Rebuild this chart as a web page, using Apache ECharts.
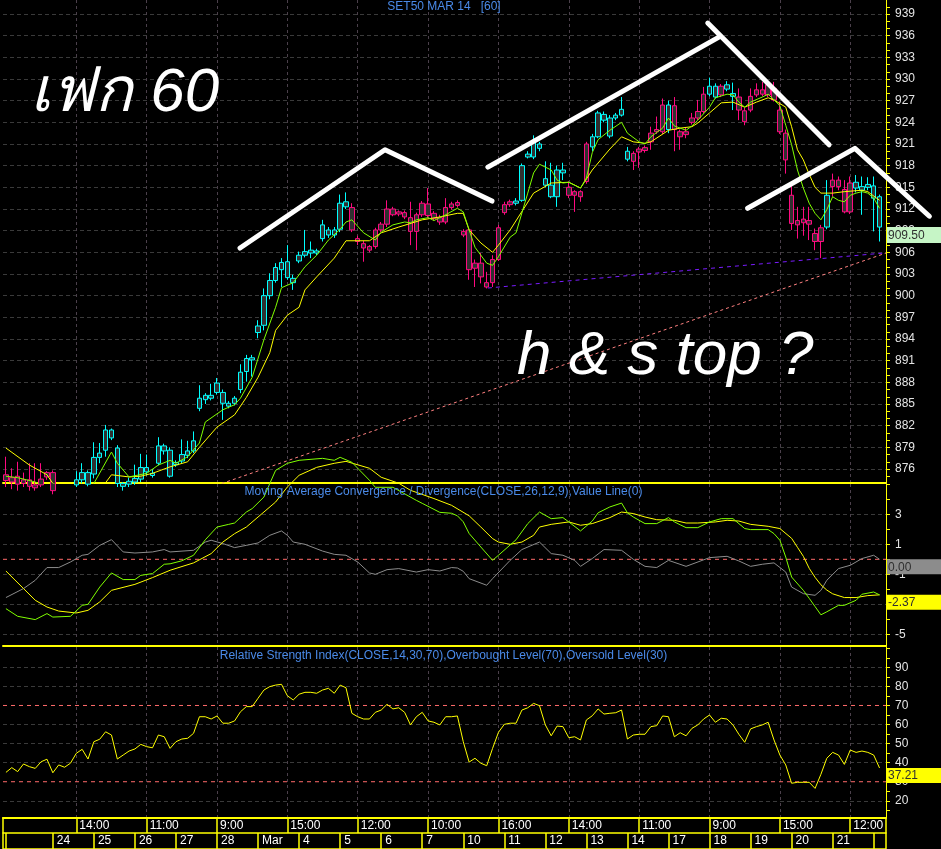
<!DOCTYPE html>
<html>
<head>
<meta charset="utf-8">
<title>SET50 MAR 14 [60]</title>
<script src="https://cdn.jsdelivr.net/npm/echarts@6.0.0/dist/echarts.min.js"></script>
<style>
html,body{margin:0;padding:0;background:#000;}
#chart{width:941px;height:849px;}
</style>
</head>
<body>
<div id="chart"></div>
<script>
// ---------------- DATA ----------------
const timeLabelIdx = [12,24,36,48,60,72,84,96,108,120,132,144];
const timeLabels = ['14:00','11:00','9:00','15:00','12:00','10:00','16:00','14:00','11:00','9:00','15:00','12:00'];
const dayStartIdx = [0,8,15,22,29,36,43,50,57,64,71,78,85,92,99,106,113,120,127,134,141,148];
const dayLabels = ['','24','25','26','27','28','Mar','4','5','6','7','10','11','12','13','14','17','18','19','20','21',''];

const priceTickLabels = [876,879,882,885,888,891,894,897,900,903,906,909,912,915,918,921,924,927,930,933,936,939];
const macdTickLabels = [-5,-3,-1,1,3];
const rsiTickLabels = [20,30,40,50,60,70,80,90];

const opens = [875.2,874.8,875.0,874.0,874.5,873.8,873.8,874.9,875.5,873.0,
872.5,873.0,873.8,874.5,875.5,875.3,877.6,878.6,881.4,878.9,
874.0,873.9,874.2,874.6,876.2,875.4,876.8,879.2,878.6,876.6,
877.1,877.9,878.5,884.4,885.6,886.2,887.9,886.6,884.7,885.1,
887.0,889.5,891.4,894.9,895.9,900.0,902.1,903.6,904.7,902.4,
904.8,905.6,905.9,906.2,909.8,908.4,909.1,909.2,913.0,912.2,
907.9,907.2,906.3,906.8,909.1,909.9,912.0,911.3,911.5,910.8,
908.9,911.2,912.7,910.7,910.8,910.2,912.2,912.5,908.4,909.1,
903.8,904.5,901.2,901.8,905.0,911.5,912.6,912.8,913.2,919.6,
919.2,921.0,915.3,915.3,913.7,917.4,915.0,914.4,914.4,915.8,
920.6,922.0,925.1,922.1,924.6,925.0,920.0,918.6,919.9,920.5,
921.3,922.7,922.7,923.0,926.3,922.0,922.3,924.0,924.6,925.5,
929.0,929.0,927.8,929.2,927.6,927.5,925.6,925.7,927.8,927.9,
927.8,928.7,925.7,922.5,913.9,909.8,910.1,910.4,908.6,907.5,
909.5,915.1,916.0,914.7,911.6,915.7,914.6,915.0,915.2,913.7];
const highs = [877.7,876.1,877.0,875.5,876.8,876.8,876.8,875.7,875.8,873.8,
873.6,874.0,875.7,876.8,875.8,879.7,879.6,882.1,881.6,879.3,
874.2,874.8,876.6,878.1,878.0,876.0,880.4,879.5,879.0,877.2,
880.1,879.9,881.2,887.6,886.5,887.8,888.6,887.0,885.4,886.1,
890.5,891.8,891.8,896.6,901.0,903.1,904.5,905.2,907.0,902.9,
906.1,909.1,907.5,906.5,910.5,909.5,909.5,914.0,914.3,912.8,
908.3,907.6,907.0,909.4,910.2,913.2,912.3,911.8,911.8,913.0,
911.5,913.1,914.9,911.7,911.2,913.5,913.0,913.2,909.2,909.5,
905.0,905.9,903.3,905.6,909.8,913.0,913.3,913.5,918.3,920.0,
922.2,921.3,918.6,918.4,918.0,918.4,915.8,914.6,914.6,921.3,
922.4,925.6,925.5,925.0,925.3,927.5,920.6,920.0,920.6,920.8,
923.4,924.8,927.3,927.0,927.5,923.0,923.3,925.3,927.1,928.9,
930.2,929.4,929.3,929.7,929.5,928.7,926.0,928.7,929.4,929.6,
929.8,929.6,926.9,923.0,915.3,912.3,912.3,912.3,909.3,909.8,
916.0,916.9,916.5,916.0,916.5,916.7,916.5,916.4,916.5,914.0];
const lows = [873.5,873.2,873.0,873.5,873.0,873.0,873.5,874.5,872.5,871.8,
872.0,872.5,873.5,874.0,873.6,874.7,876.8,877.7,880.0,873.5,
873.0,873.5,873.8,874.2,875.1,874.8,876.5,878.0,874.8,876.3,
876.8,877.5,878.2,884.0,885.0,885.5,886.3,882.8,884.4,884.8,
886.5,888.1,888.8,894.1,895.2,899.5,901.8,901.2,902.2,900.8,
904.5,905.3,905.2,905.6,907.5,908.0,908.0,908.8,912.0,908.8,
907.0,904.7,906.0,906.5,908.8,909.5,911.0,911.0,910.6,907.0,
906.3,910.9,910.8,910.4,909.8,909.9,911.9,912.2,908.1,902.2,
901.2,901.7,901.0,901.2,904.8,911.2,912.3,912.5,913.0,919.0,
918.9,920.0,915.0,913.5,912.3,916.0,913.5,911.6,913.0,915.5,
920.0,921.8,924.0,921.8,924.3,924.8,918.6,917.4,917.7,919.8,
920.2,922.4,922.4,922.5,920.0,920.2,921.8,923.7,924.3,925.2,
927.6,927.3,927.5,928.3,925.7,924.3,923.6,925.4,927.5,927.6,
927.5,926.9,922.4,916.9,909.1,907.9,908.3,907.7,906.3,905.2,
909.2,913.7,914.6,911.4,911.3,914.3,911.2,914.6,908.9,907.5];
const closes = [874.4,874.2,873.9,874.5,873.6,873.4,874.6,875.5,873.0,872.5,
873.0,873.8,874.5,875.5,873.9,877.6,878.2,881.4,880.3,874.0,
873.6,874.3,874.7,876.2,875.6,875.1,879.2,878.5,875.0,876.9,
878.0,878.5,879.9,885.8,886.2,885.8,886.6,885.1,885.1,885.8,
889.4,891.3,891.1,895.8,900.0,902.1,903.9,904.6,902.5,901.8,
905.6,906.1,906.3,905.9,907.9,909.1,908.4,912.8,912.3,909.1,
907.5,906.6,906.8,909.1,909.9,912.0,911.2,911.6,910.9,908.9,
911.2,912.8,911.1,911.4,910.2,912.2,912.7,912.9,908.9,903.6,
904.5,902.6,901.8,905.0,909.4,912.6,913.0,913.1,918.0,919.2,
921.2,920.4,916.2,913.7,917.4,917.0,913.9,913.9,913.7,921.0,
922.0,925.3,924.3,924.6,925.0,925.8,918.9,919.7,920.3,920.1,
922.5,923.0,926.4,926.4,923.0,922.7,922.7,924.6,925.5,927.9,
927.9,927.5,929.0,928.6,928.0,925.7,924.1,927.6,928.5,928.5,
929.2,927.1,922.7,918.8,910.0,910.4,910.6,909.9,907.5,909.4,
913.9,916.0,915.1,911.6,915.6,914.9,915.1,915.4,913.5,909.50];

// bull (1) / bear (0) state: [first bar, state]
const regimeRuns = [[0,0],[12,1],[59,0],[87,1],[96,0],[100,1],[107,0],[113,1],[114,0],[120,1],[122,0],[123,1],[125,0],[140,1],[141,0],[145,1]];

const maFast = [[0,875.0],[2,874.8],[5,874.2],[8,873.0],[11,872.6],[14,873.2],[15,874.0],[18,878.35],[19,876.8],[21,874.9],[24,875.4],[26,876.55],[28,877.2],[29,876.8],[31,877.7],[33,879.6],[34,882.5],[37,884.2],[39,884.9],[40,885.8],[42,888.7],[44,893.9],[46,898.4],[47,901.1],[49,901.8],[51,904.0],[53,905.6],[55,907.7],[57,909.2],[58,910.2],[59,910.5],[61,908.7],[63,907.7],[64,908.8],[66,909.8],[68,910.2],[69,910.1],[70,910.5],[72,910.8],[73,910.4],[75,911.2],[77,912.1],[78,911.6],[79,909.1],[80,906.7],[82,904.5],[83,904.2],[84,905.4],[86,908.1],[87,908.7],[89,914.2],[90,917.0],[91,918.2],[93,917.4],[94,916.0],[95,915.6],[96,915.7],[97,915.3],[98,914.9],[99,916.3],[100,919.8],[101,921.6],[103,922.9],[105,924.0],[106,922.5],[108,921.3],[109,921.0],[110,922.0],[112,923.2],[113,924.6],[114,923.5],[116,922.9],[117,923.5],[118,924.3],[120,926.1],[121,927.4],[123,927.9],[124,927.8],[125,926.8],[126,926.1],[127,926.8],[129,927.5],[130,927.9],[131,927.1],[132,926.3],[133,923.6],[134,920.9],[135,917.4],[136,914.9],[137,912.8],[138,911.4],[139,910.5],[140,911.9],[141,913.7],[142,913.2],[143,913.0],[144,913.9],[145,914.2],[146,914.4],[147,914.2],[148,913.5],[149,912.1]];
const maSlow = [[0,878.9],[4,876.55],[7,875.2],[8,874.0],[11,873.2],[14,873.3],[17,874.1],[18,875.2],[21,874.9],[23,875.0],[25,875.4],[28,876.3],[31,877.0],[33,879.0],[36,881.8],[39,883.5],[41,885.9],[43,888.7],[45,892.1],[46,895.2],[48,897.3],[50,898.4],[51,900.8],[53,902.6],[56,905.2],[58,907.6],[62,907.6],[64,908.7],[67,909.5],[71,910.5],[74,910.9],[77,911.4],[78,911.4],[79,909.1],[81,907.3],[83,906.0],[84,907.0],[86,909.1],[90,914.2],[93,915.6],[96,915.7],[98,914.9],[100,917.4],[103,920.3],[105,922.0],[107,921.3],[109,921.1],[110,921.3],[113,922.9],[115,923.2],[117,923.4],[118,923.9],[120,925.3],[122,926.7],[124,926.8],[126,926.1],[128,926.8],[130,927.4],[131,927.1],[133,926.1],[134,923.4],[135,920.2],[136,918.8],[137,916.8],[138,915.0],[139,914.2],[141,914.2],[143,914.4],[146,914.6],[147,914.4],[149,913.2]];

const macdLine = [[0,-3.29],[2,-3.8],[5,-4.02],[7,-3.62],[8,-3.85],[11,-3.8],[13,-3.07],[14,-3.0],[16,-1.85],[18,-0.91],[20,-1.35],[22,-1.35],[23,-1.07],[25,-0.95],[27,-0.33],[28,-0.3],[30,-0.1],[32,0.27],[34,1.3],[36,2.15],[38,2.33],[39,2.42],[41,3.15],[42,3.38],[44,4.15],[45,5.05],[46,5.93],[48,6.4],[50,6.6],[54,6.73],[56,6.6],[57,6.8],[59,6.47],[62,5.27],[63,4.8],[66,4.8],[70,3.93],[71,3.73],[74,3.13],[76,3.07],[77,2.9],[78,2.5],[79,1.72],[81,0.82],[83,-0.07],[84,0.27],[87,1.3],[89,2.38],[91,3.15],[93,2.71],[95,2.78],[96,2.49],[98,1.89],[100,2.55],[101,3.1],[103,3.49],[105,3.75],[106,3.1],[107,2.82],[109,2.38],[111,2.38],[113,2.78],[114,2.5],[115,2.3],[116,2.11],[118,2.11],[120,2.49],[122,2.71],[124,2.71],[126,2.05],[127,1.98],[130,1.98],[131,1.71],[132,1.27],[133,0.15],[134,-1.18],[136,-2.07],[137,-2.6],[138,-3.15],[139,-3.7],[140,-3.5],[142,-3.07],[143,-3.07],[145,-2.73],[146,-2.33],[148,-2.18],[149,-2.37]];
const signalLine = [[0,-0.78],[3,-1.95],[5,-2.73],[7,-3.18],[9,-3.45],[12,-3.58],[14,-3.4],[16,-2.84],[18,-2.07],[22,-1.67],[25,-1.22],[28,-0.73],[32,-0.24],[35,0.38],[37,1.15],[39,1.71],[41,2.15],[43,2.82],[46,3.82],[48,4.82],[50,5.6],[53,6.13],[56,6.4],[58,6.53],[62,6.07],[64,5.47],[67,5.07],[69,4.6],[73,4.05],[76,3.6],[79,2.9],[81,2.15],[83,1.38],[84,1.15],[86,1.0],[88,1.15],[90,1.6],[91,2.15],[93,2.33],[96,2.49],[98,2.27],[100,2.38],[103,2.78],[105,3.15],[107,3.05],[109,2.82],[111,2.64],[114,2.6],[116,2.42],[118,2.42],[121,2.49],[123,2.6],[125,2.55],[127,2.33],[130,2.2],[132,2.05],[134,1.4],[135,0.8],[136,0.2],[137,-0.6],[138,-1.2],[139,-1.7],[140,-2.05],[141,-2.3],[143,-2.55],[145,-2.55],[147,-2.42],[149,-2.37]];
const histLine = [[0,-2.55],[3,-1.95],[5,-1.4],[7,-0.55],[9,-0.55],[11,-0.18],[13,0.27],[14,0.33],[16,0.93],[18,1.31],[20,0.49],[22,0.42],[25,0.49],[27,0.65],[28,0.49],[32,0.6],[34,1.15],[35,1.27],[37,1.05],[39,0.78],[41,0.93],[43,1.09],[45,1.6],[47,1.89],[48,1.6],[49,1.15],[51,1.0],[54,0.55],[56,0.33],[58,0.27],[60,-0.18],[62,-0.91],[63,-1.0],[65,-0.69],[67,-0.62],[70,-0.85],[72,-0.69],[74,-0.78],[76,-0.55],[77,-0.58],[78,-0.8],[79,-1.29],[82,-1.73],[83,-1.29],[86,-0.07],[88,0.65],[91,1.15],[93,0.38],[95,0.27],[97,-0.07],[98,-0.47],[100,0.05],[102,0.65],[105,0.6],[107,0.0],[109,-0.47],[111,-0.55],[113,-0.07],[116,-0.47],[120,0.11],[123,0.2],[125,-0.11],[127,-0.47],[129,-0.33],[131,-0.24],[133,-0.85],[134,-1.85],[136,-2.29],[138,-2.4],[139,-2.07],[140,-1.4],[142,-0.62],[144,-0.4],[146,0.05],[148,0.27],[149,0.0]];

const rsi = [34.9,37.4,35.3,39.3,37.9,37.0,40.5,41.8,34.7,38.8,
37.6,39.7,44.9,47.0,41.9,51.0,52.3,56.2,54.5,41.9,
44.0,46.1,47.2,49.6,48.4,47.8,54.5,53.6,47.5,51.0,
52.4,52.8,55.4,64.1,64.1,62.9,64.5,60.7,60.7,61.9,
66.7,69.4,69.4,73.8,78.1,79.9,80.7,81.1,75.1,72.9,
75.9,76.9,76.9,76.4,78.1,79.0,76.4,80.7,79.3,65.9,
64.1,62.9,62.9,66.4,67.6,70.6,68.2,68.8,66.4,59.8,
64.1,66.4,61.9,61.2,59.8,64.1,64.1,64.5,51.0,40.3,
42.3,39.7,38.4,47.5,55.9,60.1,60.7,60.7,67.6,68.8,
71.1,69.9,59.8,54.1,59.2,58.9,53.1,53.6,51.9,62.4,
64.6,68.2,65.5,65.9,66.2,67.6,52.4,54.5,54.9,54.9,
58.9,59.4,64.5,64.1,53.6,55.7,54.1,58.0,59.8,62.9,
65.0,61.2,63.3,62.9,59.8,54.9,50.7,57.7,58.9,59.8,
61.2,51.9,44.0,38.8,29.2,29.7,29.7,29.7,26.5,33.9,
42.3,45.4,44.0,39.1,46.6,45.4,46.1,45.4,44.0,37.21];

const macdZero = 0;
const rsiOverbought = 70;
const rsiOversold = 30;

// hand-drawn annotations and trend lines, in [bar, price]
const supportLine = [[82.2,901.06],[150.1,905.93]];
const risingTrend = [[30,872.07],[150.1,905.9]];
const leftShoulder = [[39.93,906.6],[64.65,920.2],[82.9,913.1]];
const headUp = [[82.2,917.8],[121.6,935.8]];
const headDown = [[119.7,937.75],[140.4,920.9]];
const rightShoulder = [[126.5,912.1],[144.8,920.4],[157.5,911.0]];

const chartTitle = 'SET50 MAR 14   [60]';
const macdTitle = 'Moving Average Convergence / Divergence(CLOSE,26,12,9),Value Line(0)';
const rsiTitle = 'Relative Strength Index(CLOSE,14,30,70),Overbought Level(70),Oversold Level(30)';
const noteThai = 'เฟก 60';
const noteEn = 'h & s top ?';

// ---------------- STYLE / LAYOUT ----------------
const YELLOW = '#ffff00', CYAN = '#00ffff', PINK = '#ff0a80', HOLLOW = '#303030';
const FONT = '"Liberation Sans", Arial, "DejaVu Sans", sans-serif';
const X_MIN = -0.5, X_MAX = 150.1;
const P_MIN = 874.06, P_MAX = 940.94;
const M_MIN = -5.78, M_MAX = 5.02;
const R_MIN = 10.97, R_MAX = 100.68;

function regimeAt(i) {
  let s = 0;
  for (const r of regimeRuns) { if (i >= r[0]) s = r[1]; }
  return s;
}
const candleData = opens.map((o, i) => {
  const col = regimeAt(i) ? CYAN : PINK;
  return { value: [i, o, closes[i], lows[i], highs[i]],
    itemStyle: { color: HOLLOW, color0: col, borderColor: col, borderColor0: col, borderWidth: 1 } };
});
const rsiData = rsi.map((v, i) => [i, v]);

function range(a, b, s) { const r = []; for (let v = a; v <= b + 1e-9; v += s) r.push(Math.round(v * 100) / 100); return r; }

const chart = echarts.init(document.getElementById('chart'), null, { renderer: 'canvas' });

function paneX(gi, extra) {
  return Object.assign({
    type: 'value', gridIndex: gi, min: X_MIN, max: X_MAX, position: 'bottom',
    axisLine: { show: true, onZero: false, lineStyle: { color: YELLOW, width: 2 } },
    axisTick: { show: false, customValues: timeLabelIdx },
    axisLabel: { show: false },
    splitLine: { show: true, lineStyle: { color: '#4b404b', type: [3, 3], width: 1 } }
  }, extra || {});
}
// right axis: line, minor ticks and labels
function mainY(gi, min, max, labels, ticks, margin) {
  return {
    type: 'value', gridIndex: gi, position: 'right', min: min, max: max,
    axisLine: { show: true, onZero: false, lineStyle: { color: YELLOW, width: 1 } },
    axisTick: { show: true, inside: false, length: 4, customValues: ticks, lineStyle: { color: YELLOW } },
    axisLabel: { show: true, customValues: labels, color: '#e4e4e4', fontSize: 12, fontFamily: FONT, margin: margin },
    splitLine: { show: false }
  };
}
// hidden companion axis that only carries the horizontal grid lines
function gridY(gi, min, max, lines) {
  return {
    type: 'value', gridIndex: gi, position: 'left', min: min, max: max,
    axisLine: { show: false }, axisLabel: { show: false },
    axisTick: { show: false, customValues: lines },
    splitLine: { show: true, lineStyle: { color: '#3a3a3a', type: [4, 3], width: 1 } }
  };
}
function lineSeries(data, xi, yi, color, extra) {
  return Object.assign({
    type: 'line', data: data, xAxisIndex: xi, yAxisIndex: yi, symbol: 'none', silent: true,
    lineStyle: { color: color, width: 1 }, animation: false
  }, extra || {});
}
function levelLine(xi, yi, v) {
  return lineSeries([[X_MIN, v], [X_MAX, v]], xi, yi, '#ff6a6a', { z: 6, lineStyle: { color: '#ff6a6a', width: 1, type: [4, 4] } });
}

const option = {
  backgroundColor: '#000000',
  animation: false,
  grid: [
    { left: 3, right: 55, top: 0, height: 483, outerBoundsMode: 'none' },
    { left: 3, right: 55, top: 484, height: 162, outerBoundsMode: 'none' },
    { left: 3, right: 55, top: 647, height: 171, outerBoundsMode: 'none' },
    { left: 3, right: 55, top: 818, height: 31, show: true, borderColor: YELLOW, borderWidth: 1.5,
      backgroundColor: 'transparent', outerBoundsMode: 'none' }
  ],
  xAxis: [
    paneX(0),
    paneX(1),
    paneX(2, {
      axisTick: { show: true, customValues: timeLabelIdx, length: 15, inside: false, lineStyle: { color: YELLOW, width: 1.5 } },
      axisLabel: { show: true, customValues: timeLabelIdx, color: '#ffffff', fontSize: 12, fontFamily: FONT,
        align: 'left', padding: [0, 0, 0, 3], margin: 2,
        formatter: v => timeLabels[timeLabelIdx.indexOf(Math.round(v))] || '' }
    }),
    { type: 'value', gridIndex: 3, min: X_MIN, max: X_MAX, position: 'top', offset: -15,
      axisLine: { show: true, onZero: false, lineStyle: { color: YELLOW, width: 1.5 } },
      axisTick: { show: true, inside: true, length: 16, customValues: dayStartIdx, lineStyle: { color: YELLOW, width: 1.5 } },
      axisLabel: { show: true, inside: true, customValues: dayStartIdx, color: '#ffffff', fontSize: 12, fontFamily: FONT,
        align: 'left', padding: [0, 0, 0, 4], margin: 2,
        formatter: v => dayLabels[dayStartIdx.indexOf(Math.round(v))] || '' },
      splitLine: { show: false } }
  ],
  yAxis: [
    mainY(0, P_MIN, P_MAX, priceTickLabels, range(875, 940, 1), 9),
    gridY(0, P_MIN, P_MAX, priceTickLabels),
    mainY(1, M_MIN, M_MAX, macdTickLabels, range(-5, 5, 1), 9),
    gridY(1, M_MIN, M_MAX, macdTickLabels),
    mainY(2, R_MIN, R_MAX, rsiTickLabels, range(15, 100, 5), 9),
    gridY(2, R_MIN, R_MAX, rsiTickLabels.filter(v => v !== rsiOverbought && v !== rsiOversold)),
    { type: 'value', gridIndex: 3, show: false, min: 0, max: 1 }
  ],
  series: [
    { type: 'candlestick', xAxisIndex: 0, yAxisIndex: 0, data: candleData, barWidth: 5, silent: true, z: 3 },
    lineSeries(maSlow, 0, 0, '#ffff00', { z: 4 }),
    lineSeries(maFast, 0, 0, '#80ff00', { z: 5 }),
    lineSeries(supportLine, 0, 0, '#7a1cff', { lineStyle: { color: '#7a1cff', width: 1, type: [4, 4] }, z: 6 }),
    lineSeries(risingTrend, 0, 0, '#ff8080', { lineStyle: { color: '#ff8080', width: 1, type: [3, 3] }, z: 6 }),
    levelLine(1, 2, macdZero),
    lineSeries(histLine, 1, 2, '#8c8c8c', { clip: false, z: 7 }),
    lineSeries(signalLine, 1, 2, '#ffff00', { clip: false, z: 8 }),
    lineSeries(macdLine, 1, 2, '#80ff00', { clip: false, z: 9 }),
    levelLine(2, 4, rsiOverbought),
    levelLine(2, 4, rsiOversold),
    lineSeries(rsiData, 2, 4, '#ffff00', { z: 8 })
  ]
};
chart.setOption(option);

// ---- annotations, text and last-value boxes ----
const els = [];
const toPx = (xi, yi, pt) => chart.convertToPixel({ xAxisIndex: xi, yAxisIndex: yi }, pt);
function txt(id, x, y, text, font, fill, align) {
  els.push({ type: 'text', id: id, x: x, y: y, z: 200, silent: true,
    style: { text: text, font: font, fill: fill, align: align || 'left', verticalAlign: 'middle',
      textAlign: align || 'left', textVerticalAlign: 'middle' } });
}
function stroke(id, pts) {
  els.push({ type: 'polyline', id: id, z: 120, silent: true,
    shape: { points: pts.map(p => toPx(0, 0, p)) },
    style: { stroke: '#ffffff', lineWidth: 5, lineCap: 'round', lineJoin: 'round', fill: null } });
}
stroke('a1', leftShoulder);
stroke('a2', headUp);
stroke('a3', headDown);
stroke('a4', rightShoulder);

txt('t1', 444, 7, chartTitle, '12px ' + FONT, '#4a8ae8', 'center');
txt('t2', 443.5, 492, macdTitle, '12px ' + FONT, '#4a8ae8', 'center');
txt('t3', 443.5, 656, rsiTitle, '12px ' + FONT, '#4a8ae8', 'center');
txt('n1', 30, 94, noteThai, 'italic 62px ' + FONT, '#ffffff', 'left');
txt('n2', 517, 357, noteEn, 'italic 62px ' + FONT, '#ffffff', 'left');

function box(id, xi, yi, val, label, bg, fg, h) {
  const y = toPx(xi, yi, [0, val])[1];
  els.push({ type: 'rect', id: id + 'r', z: 150, silent: true, shape: { x: 887, y: y, width: 54, height: h }, style: { fill: bg } });
  txt(id + 't', 888, y + h / 2 + 0.5, label, '12px ' + FONT, fg, 'left');
}
const lastClose = closes[closes.length - 1];
const lastSignal = signalLine[signalLine.length - 1][1];
const lastHist = histLine[histLine.length - 1][1];
const lastRsi = rsi[rsi.length - 1];
box('b1', 0, 0, lastClose, lastClose.toFixed(2), '#c6f5c6', '#303030', 16);
box('b2', 1, 2, lastHist, lastHist.toFixed(2), '#8c8c8c', '#303030', 15);
box('b3', 1, 2, lastSignal, lastSignal.toFixed(2), '#ffff00', '#303030', 15);
box('b4', 2, 4, lastRsi, lastRsi.toFixed(2), '#ffff00', '#303030', 15);
chart.setOption({ graphic: { elements: els } });
</script>
</body>
</html>
